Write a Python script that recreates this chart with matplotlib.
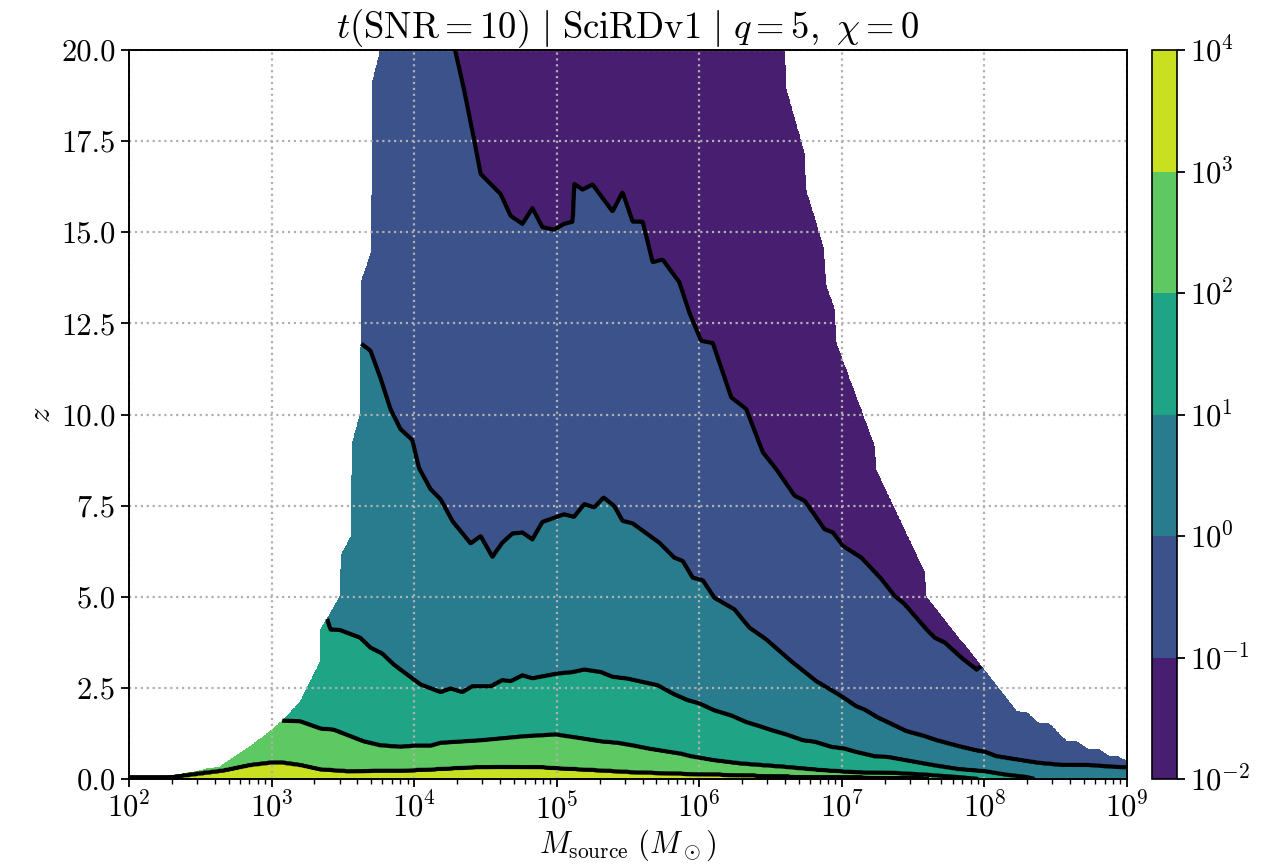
"""Filled contour map of the time to reach SNR = 10 over source mass and redshift."""

import numpy as np
import matplotlib
matplotlib.use("Agg")
import matplotlib.pyplot as plt
from matplotlib import colors, ticker

plt.rcParams['font.family'] = 'serif'
plt.rcParams['font.serif'] = ['cmr10']
plt.rcParams['mathtext.fontset'] = 'cm'
plt.rcParams['axes.unicode_minus'] = False
plt.rcParams['axes.formatter.use_mathtext'] = True
plt.rcParams['font.size'] = 22

# colour levels of t(SNR=10)
levels = [1e-2, 1e-1, 1e0, 1e1, 1e2, 1e3, 1e4]

# where t crosses each level: log10(M_source) and z
logm_1e3 = [2.0, 2.253, 2.300, 2.499, 2.663, 2.850, 3.003, 3.073, 3.202, 3.342, 3.530,
            3.904, 4.138, 4.373, 4.607, 4.888, 5.006, 5.310, 5.544, 5.872, 6.200, 6.668,
            7.137, 7.559, 7.8, 9.0]
z_1e3 = [0.05, 0.05, 0.06, 0.16, 0.24, 0.39, 0.46, 0.46, 0.39, 0.27, 0.22,
         0.23, 0.27, 0.32, 0.34, 0.33, 0.30, 0.24, 0.19, 0.15, 0.12, 0.07,
         0.05, 0.03, -0.1, -0.5]

logm_1e2 = [2.0, 2.6, 2.85, 3.0, 3.073, 3.202, 3.344, 3.436, 3.646, 3.764, 3.904, 3.998,
            4.115, 4.186, 4.467, 4.771, 4.994, 5.146, 5.310, 5.427, 5.544, 5.661, 5.872,
            5.942, 6.106, 6.294, 6.598, 6.856, 7.090, 7.371, 7.559, 7.817, 7.957, 8.2, 9.0]
z_1e2 = [0.5, 0.7, 1.2, 1.65, 1.60, 1.58, 1.38, 1.35, 1.03, 0.92, 0.88, 0.91,
         0.91, 0.99, 1.06, 1.17, 1.22, 1.13, 1.03, 0.99, 0.91, 0.82, 0.69,
         0.62, 0.51, 0.42, 0.33, 0.24, 0.18, 0.16, 0.12, 0.05, 0.0, -0.15, -0.4]

logm_1e1 = [2.0, 3.0, 3.2, 3.34, 3.389, 3.413, 3.483, 3.623, 3.694, 3.776, 3.857, 3.904,
            4.045, 4.186, 4.256, 4.338, 4.408, 4.537, 4.619, 4.677, 4.760, 4.830, 5.006,
            5.111, 5.193, 5.310, 5.392, 5.498, 5.626, 5.708, 5.825, 5.919, 6.001, 6.106,
            6.224, 6.329, 6.411, 6.505, 6.610, 6.727, 6.809, 6.926, 7.020, 7.090, 7.231,
            7.325, 7.453, 7.652, 7.817, 8.004, 8.144, 8.297, 8.4, 9.0]
z_1e1 = [2.5, 3.0, 4.0, 4.5, 4.40, 4.10, 4.08, 3.87, 3.60, 3.44, 3.14, 3.0,
         2.59, 2.38, 2.48, 2.38, 2.54, 2.54, 2.71, 2.68, 2.84, 2.76, 2.89,
         2.93, 3.0, 2.93, 2.80, 2.75, 2.64, 2.57, 2.32, 2.16, 2.07, 1.88,
         1.74, 1.56, 1.46, 1.34, 1.22, 1.06, 1.02, 0.88, 0.83, 0.75, 0.62,
         0.60, 0.51, 0.37, 0.27, 0.21, 0.12, 0.05, -0.05, -0.3]

logm_1e0 = [2.0, 3.5, 3.6, 3.623, 3.694, 3.764, 3.834, 3.904, 3.987, 4.033, 4.115, 4.186,
            4.268, 4.396, 4.467, 4.549, 4.619, 4.689, 4.760, 4.830, 4.900, 5.052, 5.122,
            5.193, 5.263, 5.329, 5.403, 5.462, 5.533, 5.720, 5.825, 5.884, 5.954, 6.025,
            6.106, 6.247, 6.352, 6.469, 6.645, 6.821, 6.997, 7.102, 7.160, 7.254, 7.453,
            7.582, 7.664, 7.817, 7.933, 8.004, 8.085, 8.261, 8.379, 8.543, 8.730, 8.917, 9.0]
z_1e0 = [8.0, 11.0, 12.3, 11.96, 11.75, 11.0, 10.15, 9.6, 9.3, 8.54, 7.95, 7.67,
         7.08, 6.46, 6.66, 6.09, 6.48, 6.73, 6.76, 6.57, 7.05, 7.26, 7.19,
         7.54, 7.45, 7.72, 7.49, 7.08, 7.01, 6.48, 6.07, 5.98, 5.52, 5.45,
         4.97, 4.65, 4.15, 3.83, 3.23, 2.68, 2.27, 1.99, 1.90, 1.68, 1.31,
         1.17, 1.06, 0.90, 0.79, 0.74, 0.62, 0.51, 0.44, 0.38, 0.38, 0.33, 0.32]

logm_1e_1 = [2.0, 4.2, 4.291, 4.349, 4.420, 4.467, 4.607, 4.677, 4.760, 4.830, 4.900,
             4.982, 5.052, 5.113, 5.123, 5.181, 5.252, 5.392, 5.462, 5.533, 5.603, 5.673,
             5.743, 5.860, 5.930, 6.013, 6.095, 6.224, 6.329, 6.446, 6.540, 6.668, 6.739,
             6.879, 6.938, 7.008, 7.137, 7.278, 7.371, 7.441, 7.594, 7.652, 7.722, 7.840,
             7.945, 8.0, 8.3, 9.0]
z_1e_1 = [24.0, 21.5, 19.94, 18.94, 17.56, 16.60, 16.05, 15.45, 15.23, 15.66, 15.14,
          15.07, 15.23, 15.29, 16.33, 16.17, 16.31, 15.57, 16.10, 15.29, 15.29, 14.18,
          14.25, 13.63, 12.80, 12.02, 11.96, 10.47, 10.15, 8.96, 8.50, 7.77, 7.63,
          6.85, 6.76, 6.39, 6.07, 5.48, 5.02, 4.79, 4.10, 3.87, 3.74, 3.32,
          3.0, 3.15, 2.5, 1.5]

# edges of the computed region (white outside)
logm_left_edge = [2.0, 2.30, 2.382, 2.476, 2.569, 2.640, 2.850, 3.003, 3.108, 3.202, 3.342,
                  3.344, 3.483, 3.486, 3.558, 3.561, 3.623, 3.627, 3.699, 3.702, 3.759, 3.764]
z_left_edge = [0.09, 0.09, 0.16, 0.21, 0.30, 0.35, 0.90, 1.35, 1.72, 2.13, 3.23,
               4.10, 5.02, 6.12, 6.67, 9.14, 10.06, 13.63, 14.45, 19.03, 19.94, 21.0]

logm_right_edge = [6.60, 6.607, 6.742, 6.747, 6.877, 6.888, 6.952, 6.958, 7.232, 7.238,
                   7.582, 7.589, 8.226, 8.297, 8.379, 8.449, 8.578, 8.648, 8.730, 8.800,
                   8.871, 8.929, 9.0]
z_right_edge = [21.0, 18.98, 17.1, 16.19, 14.5, 13.58, 12.85, 12.0, 9.1, 8.5,
                5.66, 5.02, 1.86, 1.83, 1.54, 1.54, 1.03, 1.03, 0.82, 0.82,
                0.64, 0.64, 0.48]

# build log10(t) on a grid, linear in z between the level crossings
logm = np.linspace(2, 9, 1401)
zz = np.linspace(0, 20, 801)
curves = [(logm_1e3, z_1e3), (logm_1e2, z_1e2), (logm_1e1, z_1e1),
          (logm_1e0, z_1e0), (logm_1e_1, z_1e_1)]
zc = np.array([np.interp(logm, lx, lz) for lx, lz in curves])
vals = [3.95, 3, 2, 1, 0, -1, -1.95]
logt = np.empty((len(zz), len(logm)))
for i in range(len(logm)):
    zs = np.concatenate([[zc[0, i] - 5], zc[:, i], [zc[-1, i] + 10]])
    logt[:, i] = np.interp(zz, zs, vals)

top = np.minimum(np.interp(logm, logm_left_edge, z_left_edge),
                 np.interp(logm, logm_right_edge, z_right_edge))
outside = zz[:, None] > top[None, :]
t_snr = np.ma.masked_where(outside, 10.0 ** logt)
mass = 10.0 ** logm

fig = plt.figure(figsize=(12.64, 8.67), dpi=100)
ax = fig.add_axes([0.102, 0.1015, 0.7896, 0.8408])
cax = fig.add_axes([0.9114, 0.1015, 0.0198, 0.8408])

cf = ax.contourf(mass, zz, t_snr, levels=levels, cmap='viridis',
                 norm=colors.LogNorm(vmin=1e-2, vmax=1e4))
ax.contour(mass, zz, t_snr, levels=levels[1:-1], colors='k', linewidths=3.0)

ax.set_xscale('log')
ax.set_xlim(1e2, 1e9)
ax.set_ylim(0, 20)
ax.set_yticks(np.arange(0, 20.1, 2.5))
ax.yaxis.set_major_formatter(ticker.FormatStrFormatter('%.1f'))
ax.xaxis.set_minor_formatter(ticker.NullFormatter())
ax.grid(True, which='major', linestyle=':', color='#b0b0b0', linewidth=1.6)

ax.tick_params(which='major', length=6, width=1.3)
ax.tick_params(which='minor', length=3.5, width=1.0)
for s in ax.spines.values():
    s.set_linewidth(1.4)

ax.set_xlabel(r'$M_\mathrm{source}\ (M_\odot)$', labelpad=2)
ax.set_ylabel(r'$z$')
ax.set_title(r'$t(\mathrm{SNR}=10)\ |\ \mathrm{SciRDv1}\ |\ q=5,\ \chi=0$', pad=8)

cb = fig.colorbar(cf, cax=cax)
cb.ax.tick_params(length=6, width=1.3)
cb.outline.set_linewidth(1.2)

fig.savefig('out.png', dpi=100)
